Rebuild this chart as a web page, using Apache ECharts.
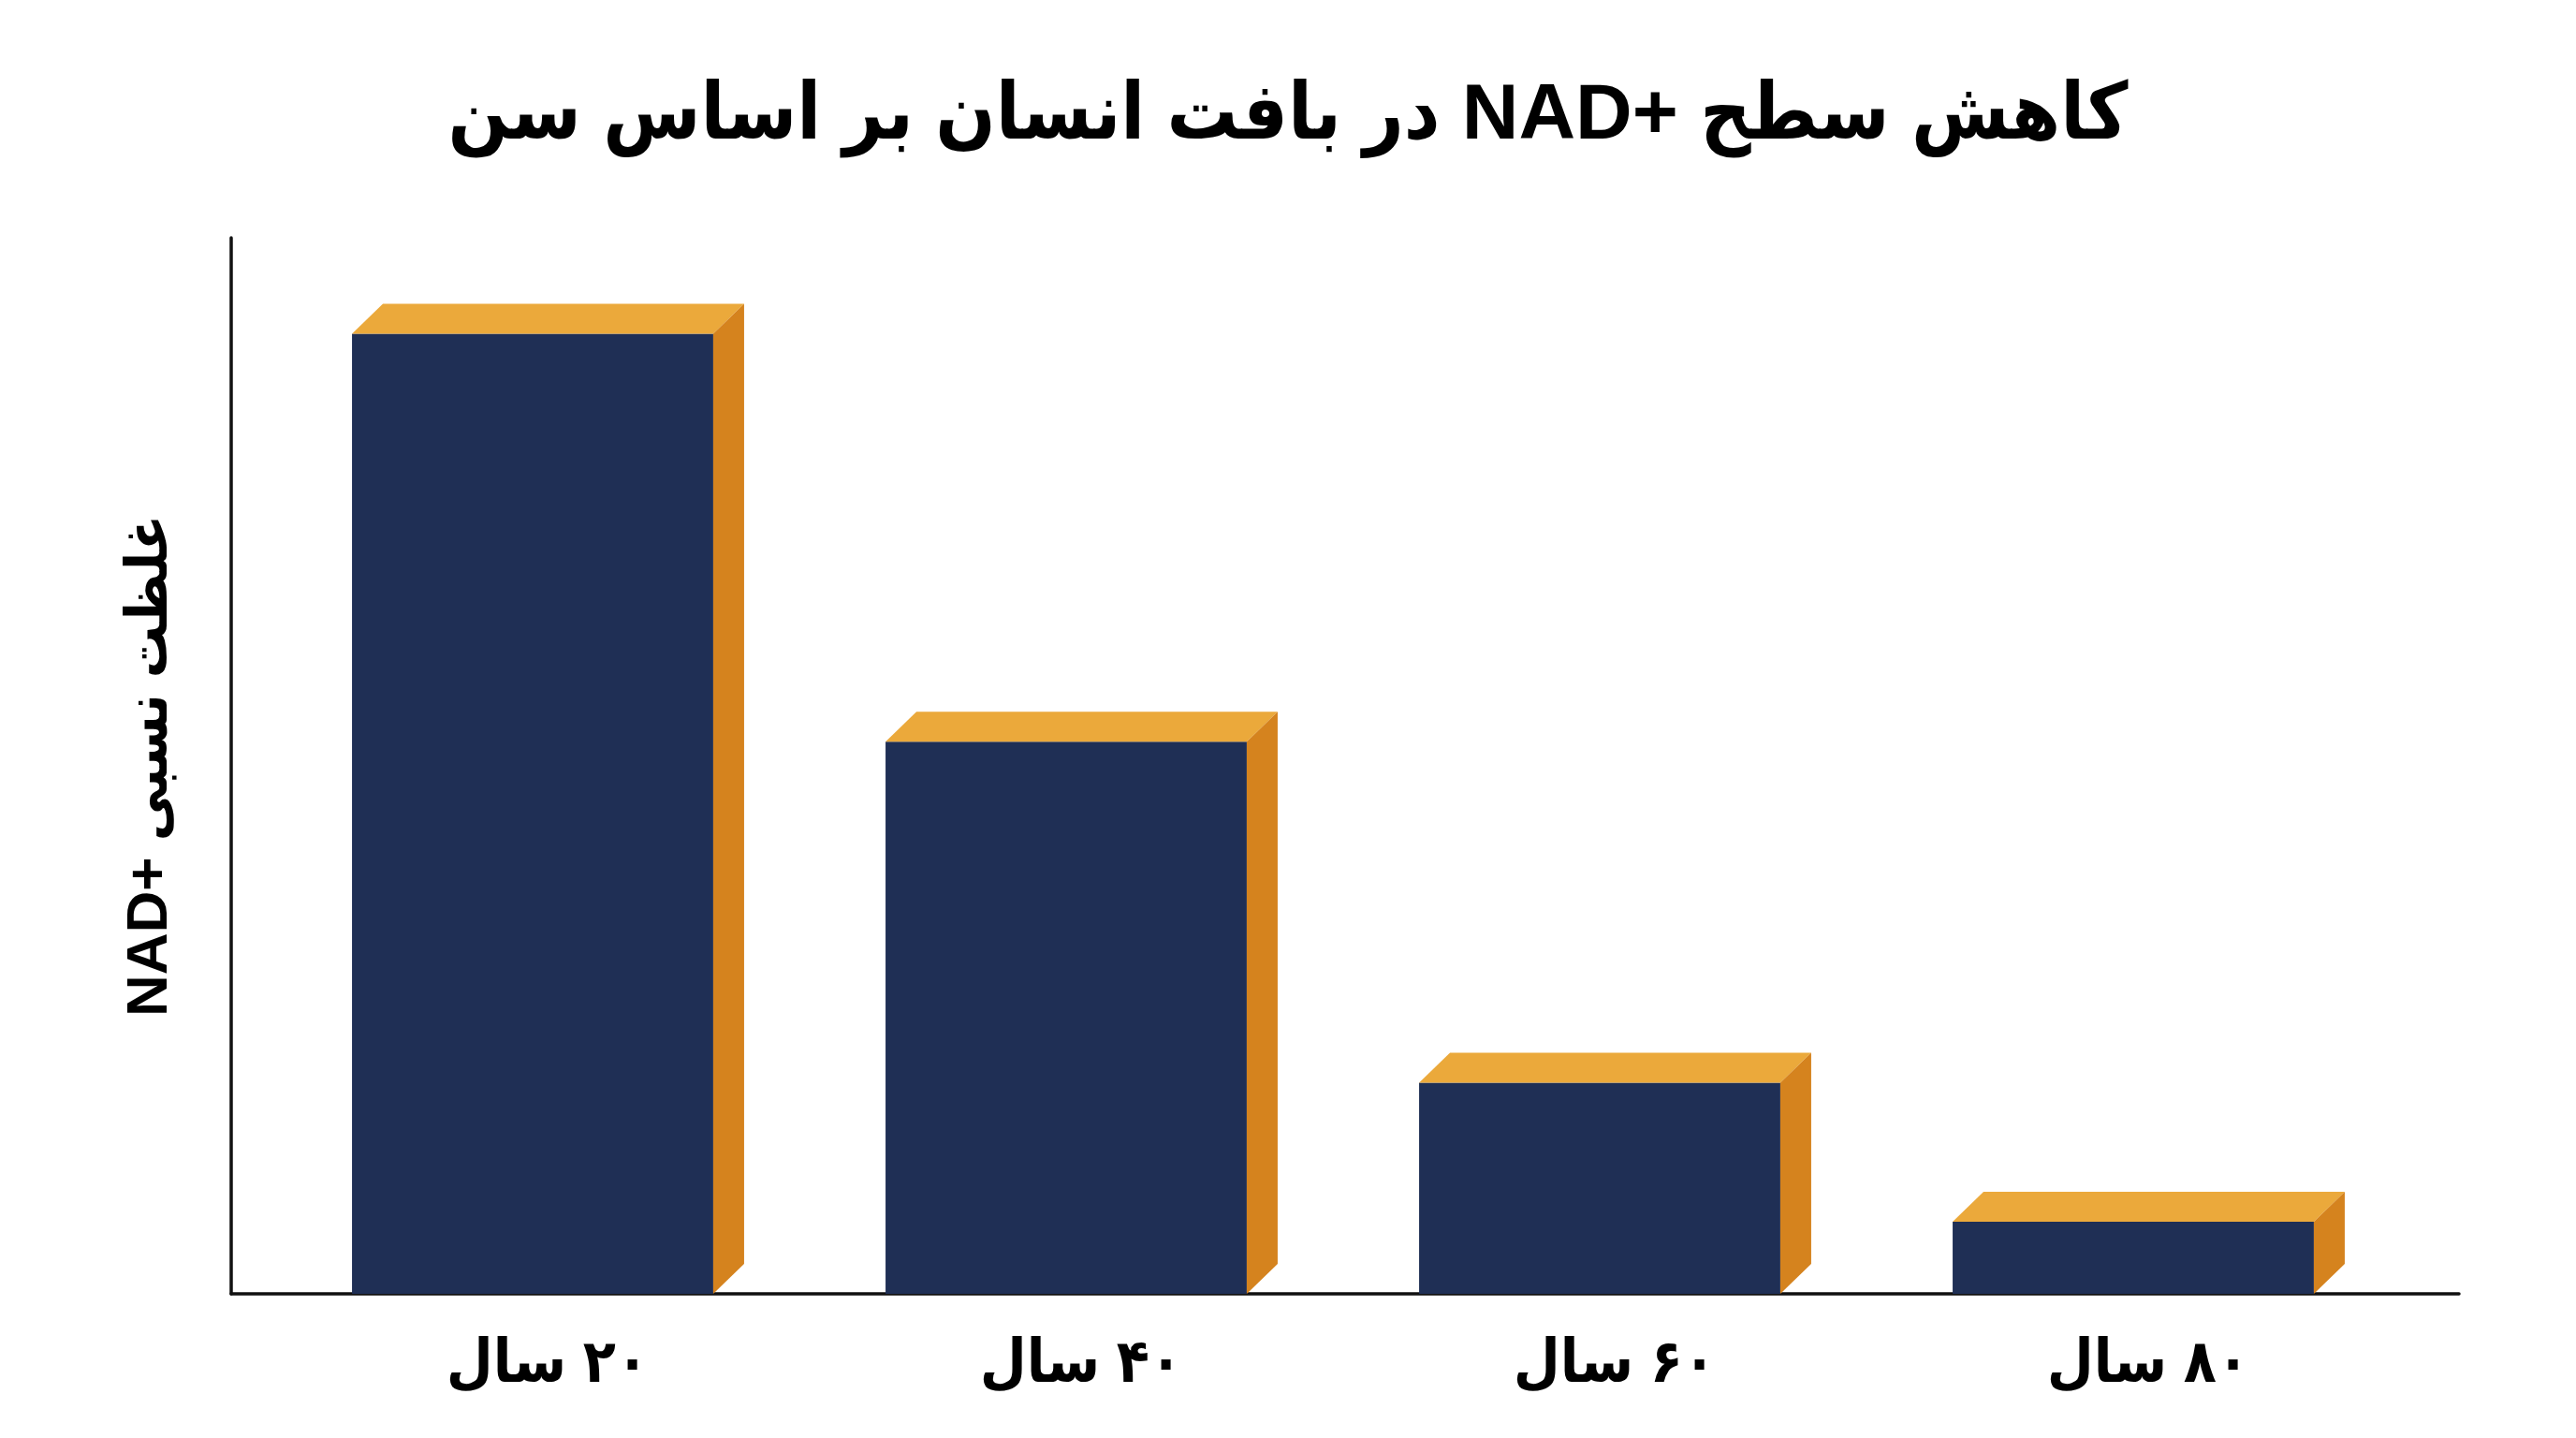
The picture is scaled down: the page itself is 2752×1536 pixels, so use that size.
<!DOCTYPE html>
<html lang="fa">
<head>
    <meta charset="UTF-8">
    <title>NAD+ بر اساس سن</title>
    <style>
        html, body {
            margin: 0;
            padding: 0;
            width: 100%;
            height: 100%;
            overflow: hidden;
            background: #fff;
        }
        #chart {
            width: 2752px;
            height: 1536px;
        }
    </style>
</head>
<body>
<!-- rtl so the canvas lays out the Persian text right to left -->
<div id="chart" dir="rtl"></div>

<script src="https://cdn.jsdelivr.net/npm/echarts@6/dist/echarts.min.js"></script>
<script>
    // data
    var ageLabels = ['۲۰ سال', '۴۰ سال', '۶۰ سال', '۸۰ سال'];
    var nadLevels = [100, 57.5, 22, 7.5];
    var yMax = 110;

    var titleText = 'کاهش سطح NAD+\u200E در بافت انسان بر اساس سن';
    var yName = 'غلظت نسبی NAD+\u200E';

    // 3d box look
    var FRONT = '#1f2f55';
    var TOP = '#eba93b';
    var SIDE = '#d5831e';
    var DEPTH_X = 33;
    var DEPTH_Y = 32;
    var BAR_RATIO = 0.677;

    var fontFa = "'Liberation Sans', 'DejaVu Sans Condensed', 'DejaVu Sans', sans-serif";

    function renderBox(params, api) {
        var top = api.coord([api.value(0), api.value(1)]);
        var base = api.coord([api.value(0), 0]);
        var half = api.size([1, 0])[0] * BAR_RATIO / 2;
        var l = top[0] - half;
        var r = top[0] + half;
        var t = top[1];
        var b = base[1];
        return {
            type: 'group',
            children: [{
                type: 'rect',
                shape: { x: l, y: t, width: r - l, height: b - t },
                style: { fill: FRONT }
            }, {
                type: 'polygon',
                shape: { points: [[l, t], [l + DEPTH_X, t - DEPTH_Y], [r + DEPTH_X, t - DEPTH_Y], [r, t]] },
                style: { fill: TOP }
            }, {
                type: 'polygon',
                shape: { points: [[r, t], [r + DEPTH_X, t - DEPTH_Y], [r + DEPTH_X, b - DEPTH_Y], [r, b]] },
                style: { fill: SIDE }
            }]
        };
    }

    var option = {
        backgroundColor: '#fff',
        animation: false,
        title: {
            text: titleText,
            left: 'center',
            top: 78,
            textStyle: {
                fontFamily: fontFa,
                fontSize: 84,
                fontWeight: 'bold',
                color: '#000'
            }
        },
        grid: [
            // bars
            { left: 284, right: 188, top: 254, bottom: 154 },
            // axis lines only
            { left: 247, right: 125, top: 254, bottom: 154 }
        ],
        xAxis: [{
            gridIndex: 0,
            type: 'category',
            data: ageLabels,
            axisLine: { show: false },
            axisTick: { show: false },
            axisLabel: {
                margin: 44,
                padding: [0, 0, 0, 32],
                fontFamily: fontFa,
                fontSize: 64,
                fontWeight: 'bold',
                color: '#000'
            }
        }, {
            gridIndex: 1,
            type: 'value',
            min: 0,
            max: 1,
            axisLine: { show: true, lineStyle: { color: '#111', width: 3.5 } },
            axisTick: { show: false },
            axisLabel: { show: false },
            splitLine: { show: false }
        }],
        yAxis: [{
            gridIndex: 0,
            type: 'value',
            min: 0,
            max: yMax,
            show: false
        }, {
            gridIndex: 1,
            type: 'value',
            min: 0,
            max: 1,
            name: yName,
            nameLocation: 'middle',
            nameGap: 55,
            nameTextStyle: {
                fontFamily: fontFa,
                fontSize: 62,
                fontWeight: 'bold',
                color: '#000'
            },
            axisLine: { show: true, lineStyle: { color: '#111', width: 3.5 } },
            axisTick: { show: false },
            axisLabel: { show: false },
            splitLine: { show: false }
        }],
        series: [{
            type: 'custom',
            xAxisIndex: 0,
            yAxisIndex: 0,
            renderItem: renderBox,
            data: nadLevels.map(function (v, i) { return [i, v]; })
        }]
    };

    var chart = echarts.init(document.getElementById('chart'));
    chart.setOption(option);
</script>
</body>
</html>
